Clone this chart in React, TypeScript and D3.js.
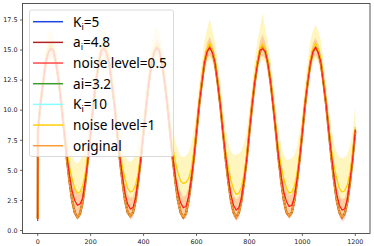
import React from 'react';
import * as d3 from 'd3';

const xs = [0, 1, 10, 20, 30, 40, 50, 60, 70, 80, 90, 100, 110, 120, 130, 140, 150, 160, 170, 180, 190,
  200, 210, 220, 230, 240, 250, 260, 270, 280, 290, 300, 310, 320, 330, 340, 350, 360, 370, 380, 390,
  400, 410, 420, 430, 440, 450, 460, 470, 480, 490, 500, 510, 520, 530, 540, 550, 560, 570, 580, 590,
  600, 610, 620, 630, 640, 650, 660, 670, 680, 690, 700, 710, 720, 730, 740, 750, 760, 770, 780, 790,
  800, 810, 820, 830, 840, 850, 860, 870, 880, 890, 900, 910, 920, 930, 940, 950, 960, 970, 980, 990,
  1000, 1010, 1020, 1030, 1040, 1050, 1060, 1070, 1080, 1090, 1100, 1110, 1120, 1130, 1140, 1150, 1160, 1170, 1180, 1190,
  1200];

const original = [1.0, 8.4, 10.4, 12.3, 13.9, 14.9, 15.2, 14.9, 13.9, 12.3, 10.4, 8.2, 6.0, 4.1, 2.5, 1.5, 1.1, 1.4, 2.4, 4.0, 6.0,
  8.2, 10.4, 12.3, 13.9, 14.9, 15.3, 14.9, 13.9, 12.3, 10.4, 8.2, 6.0, 4.1, 2.5, 1.5, 1.2, 1.5, 2.5, 4.1, 6.1,
  8.2, 10.4, 12.3, 13.9, 14.9, 15.2, 14.9, 13.9, 12.3, 10.4, 8.2, 6.0, 4.1, 2.5, 1.5, 1.1, 1.4, 2.5, 4.1, 6.0,
  8.2, 10.4, 12.3, 13.9, 14.9, 15.3, 14.9, 13.9, 12.3, 10.4, 8.2, 6.0, 4.1, 2.5, 1.5, 1.1, 1.5, 2.5, 4.1, 6.0,
  8.2, 10.4, 12.3, 13.9, 14.9, 15.2, 14.9, 13.9, 12.3, 10.4, 8.2, 6.0, 4.1, 2.5, 1.5, 1.2, 1.5, 2.5, 4.1, 6.0,
  8.2, 10.4, 12.3, 13.9, 14.9, 15.2, 14.9, 13.9, 12.3, 10.4, 8.2, 6.0, 4.1, 2.5, 1.5, 1.1, 1.4, 2.4, 4.0, 6.0,
  8.3];

const noise05Mean = [0.8, 8.3, 10.5, 12.2, 14.0, 14.8, 15.1, 15.0, 13.8, 12.4, 10.3, 8.3, 6.3, 4.6, 3.3, 2.5, 2.1, 2.2, 2.7, 4.2, 6.0,
  8.2, 10.5, 12.4, 13.8, 15.0, 15.1, 14.8, 14.0, 12.2, 10.5, 8.3, 6.2, 4.5, 3.1, 2.2, 1.8, 1.9, 2.7, 4.3, 6.1,
  8.3, 10.3, 12.4, 13.9, 14.8, 15.2, 15.0, 13.8, 12.4, 10.4, 8.3, 6.2, 4.5, 3.2, 2.3, 1.9, 2.0, 2.8, 4.2, 6.1,
  8.2, 10.5, 12.2, 14.0, 14.9, 15.2, 14.8, 14.0, 12.3, 10.5, 8.2, 6.3, 4.4, 3.0, 2.1, 1.7, 1.9, 2.7, 4.3, 6.0,
  8.3, 10.4, 12.4, 13.8, 15.0, 15.1, 14.9, 13.9, 12.4, 10.3, 8.3, 6.2, 4.5, 3.2, 2.4, 2.0, 2.1, 2.8, 4.3, 6.1,
  8.2, 10.5, 12.3, 13.9, 14.9, 15.2, 14.8, 14.0, 12.2, 10.5, 8.3, 6.3, 4.4, 3.0, 2.1, 1.7, 1.8, 2.6, 4.2, 6.0,
  8.4];

const noise05Low = [0.6, 7.8, 9.9, 11.7, 13.4, 14.2, 14.5, 14.3, 13.2, 11.8, 9.8, 7.8, 5.7, 3.9, 2.4, 1.5, 1.0, 1.1, 1.9, 3.6, 5.5,
  7.7, 9.9, 11.8, 13.2, 14.4, 14.5, 14.2, 13.4, 11.7, 9.9, 7.8, 5.6, 3.8, 2.3, 1.3, 0.9, 1.1, 1.9, 3.7, 5.6,
  7.8, 9.8, 11.8, 13.3, 14.2, 14.6, 14.4, 13.2, 11.8, 9.8, 7.8, 5.6, 3.8, 2.3, 1.3, 0.9, 1.0, 2.0, 3.6, 5.5,
  7.7, 9.9, 11.6, 13.4, 14.3, 14.6, 14.2, 13.4, 11.7, 9.9, 7.7, 5.6, 3.7, 2.1, 1.1, 0.8, 1.0, 1.9, 3.7, 5.5,
  7.8, 9.8, 11.8, 13.2, 14.4, 14.5, 14.3, 13.3, 11.8, 9.7, 7.8, 5.6, 3.8, 2.3, 1.3, 1.0, 1.2, 2.0, 3.7, 5.6,
  7.7, 9.9, 11.7, 13.3, 14.3, 14.6, 14.2, 13.4, 11.6, 9.9, 7.8, 5.6, 3.7, 2.1, 1.1, 0.7, 0.9, 1.8, 3.6, 5.5,
  7.9];

const noise05High = [1.0, 8.8, 11.0, 12.8, 14.6, 15.5, 15.8, 15.7, 14.4, 13.0, 10.9, 8.9, 7.0, 5.4, 4.1, 3.4, 3.0, 3.1, 3.5, 4.9, 6.6,
  8.8, 11.1, 13.0, 14.4, 15.7, 15.9, 15.4, 14.6, 12.8, 11.1, 8.9, 6.9, 5.3, 3.9, 3.0, 2.7, 2.8, 3.5, 5.0, 6.7,
  8.9, 10.9, 13.0, 14.5, 15.5, 16.0, 15.7, 14.4, 13.0, 11.0, 8.9, 6.9, 5.3, 4.0, 3.2, 2.8, 2.9, 3.6, 4.9, 6.7,
  8.8, 11.1, 12.8, 14.7, 15.6, 16.1, 15.5, 14.6, 12.9, 11.1, 8.8, 7.0, 5.2, 3.8, 2.9, 2.6, 2.8, 3.5, 5.0, 6.6,
  8.9, 11.0, 13.0, 14.4, 15.7, 16.3, 15.6, 14.5, 13.0, 10.9, 8.9, 6.9, 5.3, 4.0, 3.3, 2.9, 3.0, 3.6, 5.0, 6.7,
  8.8, 11.1, 12.9, 14.5, 15.6, 16.0, 15.5, 14.6, 12.8, 11.1, 8.9, 7.0, 5.2, 3.8, 2.9, 2.6, 2.7, 3.4, 4.9, 6.6,
  9.0];

const noise1Mean = [1.0, 8.5, 10.6, 12.5, 14.1, 15.2, 15.5, 15.1, 14.0, 12.5, 10.6, 8.5, 6.7, 5.3, 4.3, 3.5, 3.1, 3.2, 3.7, 4.8, 6.4,
  8.4, 10.6, 12.5, 14.2, 15.0, 15.6, 15.1, 14.2, 12.5, 10.6, 8.5, 6.7, 5.3, 4.3, 3.5, 3.2, 3.3, 3.8, 4.8, 6.4,
  8.5, 10.5, 12.6, 14.1, 15.2, 15.5, 15.2, 14.1, 12.6, 10.5, 8.6, 7.0, 5.7, 4.8, 4.1, 3.9, 4.0, 4.3, 5.1, 6.6,
  8.4, 10.6, 12.5, 14.2, 15.1, 15.6, 15.0, 14.2, 12.5, 10.7, 8.5, 6.6, 5.2, 4.2, 3.4, 3.0, 3.1, 3.6, 4.7, 6.3,
  8.5, 10.6, 12.6, 14.1, 15.2, 15.5, 15.1, 14.1, 12.6, 10.6, 8.5, 6.7, 5.3, 4.3, 3.5, 3.1, 3.2, 3.7, 4.8, 6.4,
  8.4, 10.6, 12.5, 14.2, 15.1, 15.6, 15.1, 14.2, 12.5, 10.6, 8.5, 6.7, 5.3, 4.3, 3.5, 3.2, 3.3, 3.8, 4.8, 6.4,
  8.6];

const noise1Low = [0.7, 7.6, 9.5, 11.4, 13.0, 14.0, 14.2, 14.0, 12.9, 11.4, 9.5, 7.5, 5.5, 3.7, 2.2, 1.3, 0.9, 1.1, 2.0, 3.6, 5.6,
  7.6, 9.6, 11.5, 13.1, 13.9, 14.3, 13.9, 13.1, 11.5, 9.6, 7.5, 5.5, 3.7, 2.2, 1.3, 1.0, 1.2, 2.1, 3.7, 5.7,
  7.6, 9.6, 11.5, 13.0, 14.0, 14.2, 14.0, 13.0, 11.5, 9.6, 7.6, 5.6, 3.8, 2.3, 1.3, 0.9, 1.1, 2.1, 3.7, 5.6,
  7.5, 9.7, 11.4, 13.1, 13.9, 14.3, 13.9, 13.1, 11.4, 9.7, 7.5, 5.5, 3.7, 2.2, 1.3, 0.9, 1.2, 2.1, 3.7, 5.6,
  7.6, 9.6, 11.5, 13.0, 14.0, 14.2, 14.0, 13.0, 11.5, 9.6, 7.6, 5.5, 3.7, 2.2, 1.3, 1.0, 1.2, 2.1, 3.7, 5.6,
  7.5, 9.7, 11.4, 13.1, 13.9, 14.3, 13.9, 13.1, 11.4, 9.7, 7.5, 5.5, 3.7, 2.2, 1.2, 0.9, 1.1, 2.0, 3.6, 5.6,
  7.8];

const noise1High = [1.3, 9.6, 11.9, 14.0, 15.6, 16.5, 16.7, 16.3, 15.4, 14.0, 12.0, 10.0, 8.3, 7.0, 6.2, 5.7, 5.6, 5.8, 6.3, 7.2, 8.2,
  10.1, 12.2, 14.1, 15.7, 16.4, 16.9, 16.4, 15.6, 14.1, 12.2, 10.1, 8.4, 7.1, 6.3, 5.8, 5.7, 5.9, 6.4, 7.3, 8.3,
  10.2, 12.0, 14.2, 15.6, 16.6, 17.0, 16.5, 15.5, 14.2, 12.1, 10.2, 8.6, 7.4, 6.7, 6.2, 6.1, 6.2, 6.5, 7.2, 8.4,
  10.0, 12.2, 14.0, 15.8, 16.7, 17.6, 16.6, 15.7, 14.1, 12.3, 10.1, 8.5, 7.3, 6.6, 6.3, 6.3, 6.4, 6.6, 7.3, 8.2,
  10.2, 12.1, 14.2, 15.7, 16.9, 18.1, 16.7, 15.6, 14.2, 12.2, 10.2, 8.4, 7.1, 6.3, 5.9, 5.9, 6.0, 6.3, 7.0, 8.3,
  10.0, 12.2, 14.1, 15.8, 16.6, 17.1, 16.6, 15.8, 14.1, 12.2, 10.1, 8.4, 7.2, 6.5, 6.1, 6.0, 6.1, 6.3, 7.1, 8.2,
  10.4];

const xTicks = [0, 200, 400, 600, 800, 1000, 1200];
const yTicks = [0, 2.5, 5, 7.5, 10, 12.5, 15, 17.5];

const legendItems = [
  { base: 'K', sub: 'i', rest: '=5', color: '#1a45e0' },
  { base: 'a', sub: 'i', rest: '=4.8', color: '#b22222' },
  { base: 'noise level=0.5', sub: '', rest: '', color: '#ff4a4a' },
  { base: 'ai=3.2', sub: '', rest: '', color: '#3c9e2e' },
  { base: 'K', sub: 'i', rest: '=10', color: '#88ffff' },
  { base: 'noise level=1', sub: '', rest: '', color: '#ffd000' },
  { base: 'original', sub: '', rest: '', color: '#ff9933' },
];

const W = 374, H = 246;
const frame = { l: 22.5, r: 370, t: 3.5, b: 233.5 };
const x = d3.scaleLinear().domain([0, 1200]).range([37.7, 355.3]);
const y = d3.scaleLinear().domain([0, 17.5]).range([230.5, 20]);

type Pt = [number, number];
const pts = (arr: number[]): Pt[] => xs.map((xv, i) => [xv, arr[i]]);
const line = d3.line<Pt>().x(d => x(d[0])).y(d => y(d[1]));
const area = (lo: number[], hi: number[]) =>
  d3.area<number>().x(i => x(xs[i])).y0(i => y(lo[i])).y1(i => y(hi[i]))(d3.range(xs.length)) || '';

export default function App() {
  const fmt = d3.format('.1f');
  const tickFont = 'DejaVu Sans, sans-serif';
  const legX = 29.5, legY = 10, legW = 144, legH = 146.5;
  return (
    <svg width={W} height={H} style={{ position: 'absolute', left: 0, top: 0, background: '#fff' }}>
      <defs>
        <clipPath id="plot">
          <rect x={frame.l} y={frame.t} width={frame.r - frame.l} height={frame.b - frame.t} />
        </clipPath>
      </defs>
      <rect x={0} y={0} width={W} height={H} fill="#fff" />
      <g clipPath="url(#plot)">
        <path d={area(noise1Low, noise1High)} fill="#ffd700" fillOpacity={0.25} />
        <path d={area(noise05Low, noise05High)} fill="#ff3030" fillOpacity={0.2} />
        <path d={line(pts(original)) || ''} fill="none" stroke="#1a45e0" strokeWidth={1.5} />
        <path d={line(pts(original)) || ''} fill="none" stroke="#b22222" strokeWidth={1.5} />
        <path d={line(pts(original)) || ''} fill="none" stroke="#3c9e2e" strokeWidth={1.5} />
        <path d={line(pts(original)) || ''} fill="none" stroke="#88ffff" strokeWidth={1.5} />
        <path d={line(pts(original)) || ''} fill="none" stroke="#c07a28" strokeWidth={2.4} />
        <path d={line(pts(original)) || ''} fill="none" stroke="#ff9933" strokeWidth={2} strokeDasharray="2.5,1" />
        <path d={line(pts(noise1Mean)) || ''} fill="none" stroke="#ffd000" strokeWidth={1.3} />
        <path d={line(pts(noise05Mean)) || ''} fill="none" stroke="#ff1a1a" strokeWidth={1.2} />
      </g>
      <rect x={frame.l} y={frame.t} width={frame.r - frame.l} height={frame.b - frame.t}
        fill="none" stroke="#444" strokeWidth={0.9} />
      {xTicks.map(t => (
        <g key={'x' + t}>
          <line x1={x(t)} x2={x(t)} y1={frame.b} y2={frame.b + 2.5} stroke="#444" strokeWidth={0.8} />
          <text x={x(t)} y={244} textAnchor="middle" fontSize={6.4} fontFamily={tickFont} fill="#222">{t}</text>
        </g>
      ))}
      {yTicks.map(t => (
        <g key={'y' + t}>
          <line x1={frame.l - 2.5} x2={frame.l} y1={y(t)} y2={y(t)} stroke="#444" strokeWidth={0.8} />
          <text x={17.5} y={y(t)} dy="0.35em" textAnchor="end" fontSize={6.4} fontFamily={tickFont} fill="#222">{fmt(t)}</text>
        </g>
      ))}
      <rect x={legX} y={legY} width={legW} height={legH} rx={2} fill="#fff" fillOpacity={0.8} stroke="#d0d0d0" strokeWidth={0.8} />
      {legendItems.map((it, i) => {
        const cy = 21.7 + i * 20.67;
        return (
          <g key={'l' + i}>
            <line x1={33} x2={63} y1={cy} y2={cy} stroke={it.color} strokeWidth={1.5} />
            <text x={73} y={cy} dy="0.36em" fontSize={13.6} fontFamily="Noto Sans, sans-serif" fill="#000">
              {it.base}
              {it.sub ? <tspan fontSize={9} dy={3}>{it.sub}</tspan> : null}
              {it.sub ? <tspan dy={-3}>{it.rest}</tspan> : null}
            </text>
          </g>
        );
      })}
    </svg>
  );
}
